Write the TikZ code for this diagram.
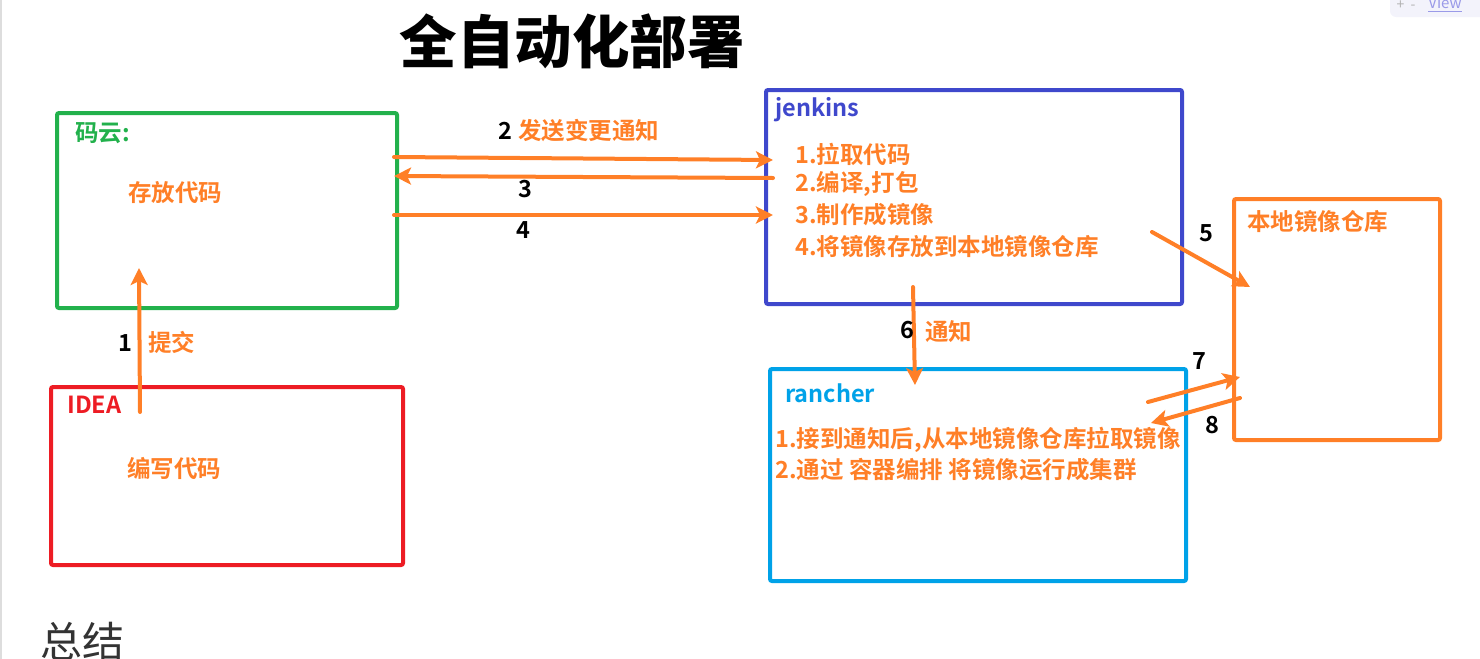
\documentclass[tikz,border=0pt]{standalone}
\usepackage{fontspec}
\setmainfont{Noto Sans CJK SC}[BoldFont={Noto Sans CJK SC Bold}]
\newfontfamily\negrita{Noto Sans CJK SC Black}
\usetikzlibrary{arrows.meta}

\definecolor{naranja}{HTML}{FF7F27}
\definecolor{verde}{HTML}{22B14C}
\definecolor{rojo}{HTML}{ED1C24}
\definecolor{indigo}{HTML}{3F48CC}
\definecolor{turquesa}{HTML}{00A2E8}
\definecolor{grisclaro}{HTML}{DDDDDD}
\definecolor{lavanda}{HTML}{F3F3FB}
\definecolor{enlace}{HTML}{9A9AE8}

\begin{document}
\begin{tikzpicture}[x=0.5pt, y=-0.5pt,
    caja/.style={draw, line width=2pt, rounded corners=1pt, anchor=north west, inner sep=0pt},
    flecha/.style={naranja, line width=2pt, line cap=round, -{Stealth[length=8.5pt, width=8.5pt, inset=2pt]}},
    texto/.style={font=\bfseries\fontsize{11.75}{14}\selectfont, inner sep=0pt, anchor=west},
    num/.style={texto, anchor=center, black},
    titulo/.style={font=\negrita\fontsize{28.75}{32}\selectfont, inner sep=0pt}]

    \useasboundingbox (0,0) rectangle (1480,659);

    % Borde izquierdo y barra de la vista
    \draw[grisclaro, line width=1pt] (1,0) -- (1,659);
    \fill[lavanda, rounded corners=3pt] (1390,-6) rectangle (1486,17);
    \node[inner sep=0pt, text=gray!60, font=\fontsize{7}{8}\selectfont] (zoom) at (1406,5) {+\ \ -};
    \node[inner sep=0pt, anchor=west, text=enlace, font=\fontsize{7.5}{8}\selectfont] (vista) at (1428,5) {\underline{View}};

    % Título
    \node[titulo] (titulo) at (572,41) {全自动化部署};

    % Cajas
    \node[caja, verde, minimum width=170pt, minimum height=97.5pt] (mayun) at (55,111) {};
    \node[caja, rojo, minimum width=176pt, minimum height=89pt] (idea) at (49,385) {};
    \node[caja, indigo, minimum width=208pt, minimum height=107pt] (jenkins) at (764,88) {};
    \node[caja, naranja, minimum width=103pt, minimum height=120.5pt] (repo) at (1232,197) {};
    \node[caja, turquesa, minimum width=208pt, minimum height=106pt] (rancher) at (768,367) {};

    % Textos de las cajas
    \node[texto, verde] (mayunT) at (75,133) {码云:};
    \node[texto, naranja] (mayunD) at (128,193) {存放代码};
    \node[texto, rojo] (ideaT) at (67,405) {IDEA};
    \node[texto, naranja] (ideaD) at (127,468) {编写代码};
    \node[texto, indigo] (jenkinsT) at (775,110) {jenkins};
    \node[texto, naranja] (paso1) at (795,154) {1.拉取代码};
    \node[texto, naranja] (paso2) at (795,184) {2.编译,打包};
    \node[texto, naranja] (paso3) at (795,215) {3.制作成镜像};
    \node[texto, naranja] (paso4) at (795,247) {4.将镜像存放到本地镜像仓库};
    \node[texto, naranja] (repoT) at (1247,222) {本地镜像仓库};
    \node[texto, turquesa] (rancherT) at (785,393) {rancher};
    \node[texto, naranja] (rpaso1) at (775,440) {1.接到通知后,从本地镜像仓库拉取镜像};
    \node[texto, naranja] (rpaso2) at (775,470) {2.通过 容器编排 将镜像运行成集群};

    % Extremos de las flechas
    \coordinate (a1) at (140,412);  \coordinate (b1) at (139,268);
    \coordinate (a2) at (394,157);  \coordinate (b2) at (773,160);
    \coordinate (a3) at (773,178);  \coordinate (b3) at (394,176);
    \coordinate (a4) at (394,215);  \coordinate (b4) at (773,215);
    \coordinate (a5) at (1152,232); \coordinate (b5) at (1250,287);
    \coordinate (a6) at (913,287);  \coordinate (b6) at (915,385);
    \coordinate (a7) at (1148,402); \coordinate (b7) at (1240,377);
    \coordinate (a8) at (1240,398); \coordinate (b8) at (1151,423);

    % Flechas
    \draw[flecha] (a1) -- (b1);
    \draw[flecha] (a2) -- (b2);
    \draw[flecha] (a3) -- (b3);
    \draw[flecha] (a4) -- (b4);
    \draw[flecha] (a5) -- (b5);
    \draw[flecha] (a6) -- (b6);
    \draw[flecha] (a7) -- (b7);
    \draw[flecha] (a8) -- (b8);

    % Números y etiquetas
    \node[num] (n1) at (125,343) {1};
    \node[texto, naranja] (l1) at (148,342) {提交};
    \node[num] (n2) at (505,131) {2};
    \node[texto, naranja] (l2) at (518,131) {发送变更通知};
    \node[num] (n3) at (525,189) {3};
    \node[num] (n4) at (523,230) {4};
    \node[num] (n5) at (1206,233) {5};
    \node[num] (n6) at (907,330) {6};
    \node[texto, naranja] (l6) at (925,332) {通知};
    \node[num] (n7) at (1199,361) {7};
    \node[num] (n8) at (1212,425) {8};

    % Resumen
    \node[inner sep=0pt, anchor=west, text=black!80, font=\fontsize{21}{24}\selectfont] (resumen) at (40,641) {总结};

\end{tikzpicture}
\end{document}
